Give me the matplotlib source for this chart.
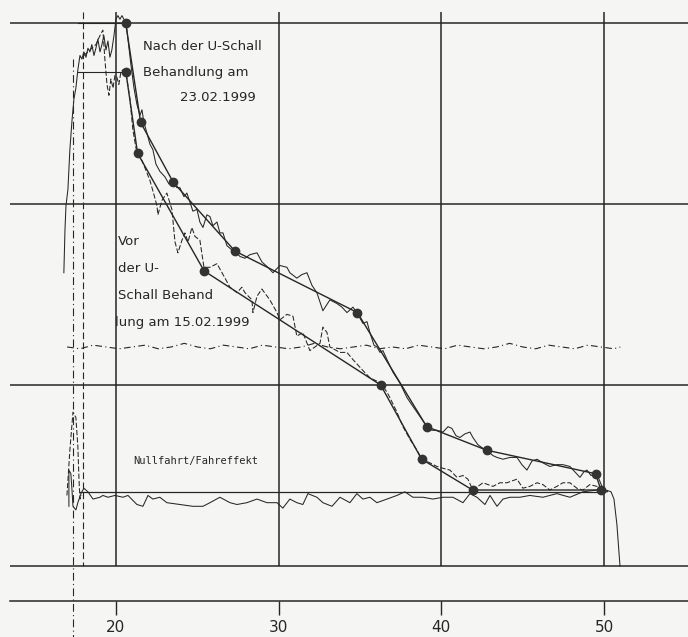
import numpy as np
import matplotlib.pyplot as plt

# ---- data (x: axis units, y: arbitrary units, grid lines at 0..3) ----
x_grid = [20, 30, 40, 50]
y_grid = [0, 1, 2, 3]

# fitted polyline, after treatment (23.02.1999)
nach_fit_x = [20.60, 21.52, 23.52, 27.31, 34.84, 39.10, 42.78, 49.48, 49.81]
nach_fit_y = [3.00, 2.45, 2.12, 1.74, 1.40, 0.77, 0.64, 0.51, 0.42]

# fitted polyline, before treatment (15.02.1999)
vor_fit_x = [20.61, 21.33, 25.42, 36.27, 38.79, 41.92, 49.81]
vor_fit_y = [2.73, 2.28, 1.63, 1.00, 0.59, 0.42, 0.42]

# measured trace, after treatment
nach_x = [16.80, 16.87, 16.93, 17.05, 17.11, 17.17, 17.30, 17.42, 17.54, 17.66,
          17.79, 17.91, 18.03, 18.16, 18.28, 18.40, 18.52, 18.65, 18.77, 18.89,
          19.02, 19.14, 19.26, 19.39, 19.51, 19.63, 19.75, 19.88, 20.00, 20.12,
          20.25, 20.37, 20.49, 20.61, 20.74, 20.92, 21.11, 21.29, 21.48, 21.60,
          21.72, 21.91, 22.09, 22.27, 22.46, 22.70, 23.01, 23.26, 23.50, 23.75,
          23.93, 24.18, 24.36, 24.55, 24.73, 24.98, 25.16, 25.35, 25.59, 25.78,
          25.96, 26.21, 26.39, 26.58, 26.82, 27.07, 27.31, 27.62, 27.93, 28.24,
          28.67, 28.97, 29.34, 29.65, 30.08, 30.51, 30.69, 31.12, 31.43, 31.74,
          32.05, 32.35, 32.72, 33.15, 33.58, 33.89, 34.20, 34.57, 34.81, 35.18,
          35.43, 35.61, 35.86, 36.04, 36.23, 36.41, 36.66, 37.03, 37.46, 37.89,
          38.19, 38.50, 38.81, 39.11, 39.42, 39.73, 40.10, 40.41, 40.65, 40.90,
          41.14, 41.45, 41.76, 41.94, 42.25, 42.56, 42.80, 43.17, 43.42, 43.79,
          44.22, 44.65, 44.95, 45.26, 45.57, 45.88, 46.24, 46.67, 47.10, 47.47,
          47.90, 48.21, 48.52, 48.76, 48.95, 49.20, 49.44, 49.69, 49.87, 50.12,
          50.43, 50.61, 50.79, 50.98]
nach_y = [1.62, 1.86, 1.99, 2.08, 2.19, 2.30, 2.46, 2.58, 2.64, 2.74,
          2.82, 2.80, 2.84, 2.81, 2.86, 2.84, 2.88, 2.82, 2.86, 2.91,
          2.84, 2.88, 2.93, 2.85, 2.90, 2.81, 2.85, 2.93, 3.02, 3.04,
          3.02, 3.04, 3.02, 3.01, 2.91, 2.77, 2.64, 2.55, 2.49, 2.52,
          2.45, 2.39, 2.33, 2.30, 2.22, 2.18, 2.15, 2.11, 2.12, 2.09,
          2.09, 2.04, 2.06, 2.01, 1.96, 1.97, 1.90, 1.87, 1.94, 1.93,
          1.88, 1.90, 1.84, 1.84, 1.77, 1.75, 1.74, 1.71, 1.70, 1.72,
          1.73, 1.68, 1.65, 1.62, 1.66, 1.65, 1.62, 1.59, 1.61, 1.62,
          1.55, 1.51, 1.41, 1.47, 1.45, 1.43, 1.40, 1.43, 1.40, 1.34,
          1.35, 1.29, 1.22, 1.21, 1.18, 1.19, 1.14, 1.07, 1.01, 0.93,
          0.89, 0.85, 0.81, 0.77, 0.75, 0.75, 0.74, 0.77, 0.76, 0.72,
          0.71, 0.73, 0.74, 0.71, 0.67, 0.65, 0.64, 0.61, 0.60, 0.59,
          0.60, 0.60, 0.56, 0.53, 0.58, 0.59, 0.57, 0.55, 0.56, 0.56,
          0.55, 0.52, 0.49, 0.52, 0.53, 0.50, 0.51, 0.48, 0.44, 0.42,
          0.41, 0.37, 0.23, 0.00]

# measured trace, before treatment (dashed)
vor_x = [18.03, 18.40, 18.77, 19.02, 19.20, 19.32, 19.45, 19.57, 19.69, 19.82,
         19.94, 20.06, 20.18, 20.31, 20.43, 20.61, 20.86, 21.04, 21.29, 21.60,
         21.78, 22.09, 22.34, 22.52, 22.58, 22.83, 23.13, 23.44, 23.63, 23.81,
         24.06, 24.24, 24.43, 24.67, 24.86, 25.16, 25.41, 25.78, 26.21, 26.52,
         27.01, 27.44, 27.74, 27.93, 28.36, 28.42, 28.67, 28.97, 29.46, 29.90,
         30.08, 30.51, 30.88, 31.12, 31.49, 31.92, 32.54, 32.72, 32.97, 33.15,
         33.77, 34.20, 34.57, 35.18, 35.61, 36.29, 36.66, 36.84, 37.27, 37.64,
         38.07, 38.50, 38.81, 39.30, 39.73, 40.10, 40.53, 40.96, 41.33, 41.63,
         41.94, 42.56, 43.17, 43.60, 44.03, 44.65, 45.01, 45.44, 45.88, 46.24,
         46.67, 47.10, 47.47, 47.90, 48.33, 48.70, 49.13, 49.56, 49.93, 50.24]
vor_y = [2.82, 2.85, 2.88, 2.93, 2.96, 2.80, 2.66, 2.60, 2.69, 2.64,
         2.71, 2.70, 2.66, 2.73, 2.74, 2.73, 2.58, 2.41, 2.28, 2.24,
         2.20, 2.13, 2.05, 1.99, 1.94, 2.02, 2.06, 1.97, 1.79, 1.73,
         1.80, 1.84, 1.79, 1.87, 1.82, 1.80, 1.65, 1.65, 1.67, 1.62,
         1.54, 1.51, 1.54, 1.51, 1.47, 1.40, 1.49, 1.53, 1.47, 1.40,
         1.36, 1.39, 1.38, 1.27, 1.29, 1.19, 1.23, 1.32, 1.29, 1.21,
         1.18, 1.18, 1.14, 1.08, 1.04, 1.01, 0.96, 0.93, 0.85, 0.77,
         0.70, 0.64, 0.59, 0.57, 0.55, 0.54, 0.53, 0.49, 0.50, 0.48,
         0.42, 0.46, 0.44, 0.46, 0.46, 0.48, 0.43, 0.44, 0.46, 0.45,
         0.42, 0.44, 0.46, 0.46, 0.43, 0.42, 0.45, 0.44, 0.42, 0.41]

# zero run / driving effect
null_x = [17.11, 17.11, 17.23, 17.30, 17.36, 17.54, 17.66, 17.85, 18.03, 18.28,
          18.59, 19.02, 19.20, 19.51, 19.94, 20.43, 20.74, 21.29, 21.66, 21.97,
          22.27, 22.70, 23.13, 23.93, 24.73, 25.35, 25.78, 26.39, 27.01, 27.44,
          28.05, 28.67, 29.28, 29.90, 30.26, 30.69, 31.12, 31.49, 31.80, 32.35,
          32.72, 33.28, 33.77, 34.38, 34.81, 35.18, 35.61, 36.04, 36.66, 37.27,
          37.76, 38.25, 38.87, 39.48, 40.10, 40.71, 41.33, 41.76, 42.19, 42.68,
          42.99, 43.42, 43.79, 44.22, 44.83, 45.44, 46.24, 47.10, 47.90, 48.70,
          49.56, 50.18]
null_y = [0.33, 0.53, 0.51, 0.42, 0.33, 0.31, 0.35, 0.40, 0.43, 0.41,
          0.37, 0.38, 0.39, 0.38, 0.39, 0.38, 0.39, 0.34, 0.33, 0.39,
          0.37, 0.38, 0.35, 0.34, 0.33, 0.33, 0.35, 0.38, 0.35, 0.34,
          0.35, 0.37, 0.35, 0.35, 0.32, 0.37, 0.35, 0.34, 0.40, 0.38,
          0.35, 0.33, 0.38, 0.35, 0.40, 0.37, 0.38, 0.35, 0.37, 0.39,
          0.41, 0.38, 0.38, 0.37, 0.38, 0.38, 0.35, 0.40, 0.38, 0.34,
          0.39, 0.33, 0.37, 0.38, 0.38, 0.39, 0.38, 0.40, 0.38, 0.41,
          0.42, 0.41]
null_spike_x = [16.99, 17.17, 17.36, 17.54, 17.66, 17.73, 17.79, 17.91]
null_spike_y = [0.39, 0.64, 0.85, 0.82, 0.66, 0.48, 0.37, 0.39]
null_level = 0.41

# wavy dash-dot reference line
ref_x = [17.0, 17.8, 18.6, 19.4, 20.2, 21.0, 21.8, 22.6, 23.4, 24.2, 25.0,
         25.8, 26.6, 27.4, 28.2, 29.0, 29.8, 30.6, 31.4, 32.2, 33.0, 33.8,
         34.6, 35.4, 36.2, 37.0, 37.8, 38.6, 39.4, 40.2, 41.0, 41.8, 42.6,
         43.4, 44.2, 45.0, 45.8, 46.6, 47.4, 48.2, 49.0, 49.8, 50.6, 51.0]
ref_y = [1.21, 1.20, 1.22, 1.21, 1.20, 1.21, 1.22, 1.20, 1.21, 1.23, 1.21,
         1.20, 1.22, 1.21, 1.20, 1.22, 1.21, 1.20, 1.21, 1.23, 1.21, 1.20,
         1.21, 1.22, 1.20, 1.21, 1.20, 1.22, 1.21, 1.20, 1.22, 1.21, 1.20,
         1.21, 1.23, 1.21, 1.20, 1.22, 1.21, 1.20, 1.22, 1.21, 1.20, 1.21]

start_marks = [17.36, 17.97]   # dash-dot / dashed start lines
peak_levels = [3.00, 2.73]

ink = "#262626"
paper = "#f5f5f3"

fig = plt.figure(figsize=(6.88, 6.37), dpi=100, facecolor=paper)
ax = fig.add_axes([10 / 688, 36 / 637, 678 / 688, 589 / 637], facecolor=paper)
ax.set_xlim(13.49, 55.16)
ax.set_ylim(-0.193, 3.06)

# grid
for yg in y_grid:
    ax.axhline(yg, color=ink, lw=1.1, zorder=1)
ax.vlines(x_grid, 0, 3.06, color=ink, lw=1.1, zorder=1)

# start marks
ax.plot([start_marks[0]] * 2, [2.80, -0.39], color=ink, lw=0.8,
        ls=(0, (7, 3, 1, 3)), clip_on=False)
ax.plot([start_marks[1]] * 2, [3.06, 0], color=ink, lw=0.8, ls=(0, (6, 3)))
for lvl, xe in zip(peak_levels, [nach_fit_x[0], vor_fit_x[0]]):
    ax.plot([17.66, xe], [lvl, lvl], color=ink, lw=0.8)

# reference & baseline
ax.plot(ref_x, ref_y, color=ink, lw=0.8, ls=(0, (6, 3, 1, 3)))
ax.plot([17.79, 50.06], [null_level, null_level], color=ink, lw=0.9)

# traces
ax.plot(null_x, null_y, color=ink, lw=0.75)
ax.plot(null_spike_x, null_spike_y, color=ink, lw=0.75, ls=(0, (5, 2)))
ax.plot(vor_x, vor_y, color=ink, lw=0.75, ls=(0, (5, 2)))
ax.plot(nach_x, nach_y, color=ink, lw=0.75)

# fitted polylines with points
ax.plot(nach_fit_x, nach_fit_y, color=ink, lw=1.0)
ax.plot(nach_fit_x[:-1], nach_fit_y[:-1], "o", color="#333333", ms=6)
ax.plot(vor_fit_x, vor_fit_y, color=ink, lw=1.0)
ax.plot(vor_fit_x, vor_fit_y, "o", color="#333333", ms=6)

# annotations
lbl = dict(color=ink, fontsize=9.5, family="DejaVu Sans", va="center")
ax.text(21.66, 2.867, "Nach der U-Schall", **lbl)
ax.text(21.66, 2.724, "Behandlung am", **lbl)
ax.text(23.93, 2.586, "23.02.1999", **lbl)
ax.text(20.12, 1.790, "Vor", **lbl)
ax.text(20.12, 1.641, "der U-", **lbl)
ax.text(20.12, 1.492, "Schall Behand", **lbl)
ax.text(19.94, 1.343, "lung am 15.02.1999", **lbl)
ax.text(21.04, 0.580, "Nullfahrt/Fahreffekt", color=ink, fontsize=7.5,
        family="DejaVu Sans Mono", va="center")

# axis styling
for side in ["top", "left", "right"]:
    ax.spines[side].set_visible(False)
ax.spines["bottom"].set_color(ink)
ax.spines["bottom"].set_linewidth(1.1)
ax.set_yticks([])
ax.set_xticks(x_grid)
ax.tick_params(axis="x", direction="out", length=10, width=1.0, color=ink,
               labelsize=11, labelcolor=ink, pad=4)

fig.savefig("out.png", dpi=100, facecolor=paper)
